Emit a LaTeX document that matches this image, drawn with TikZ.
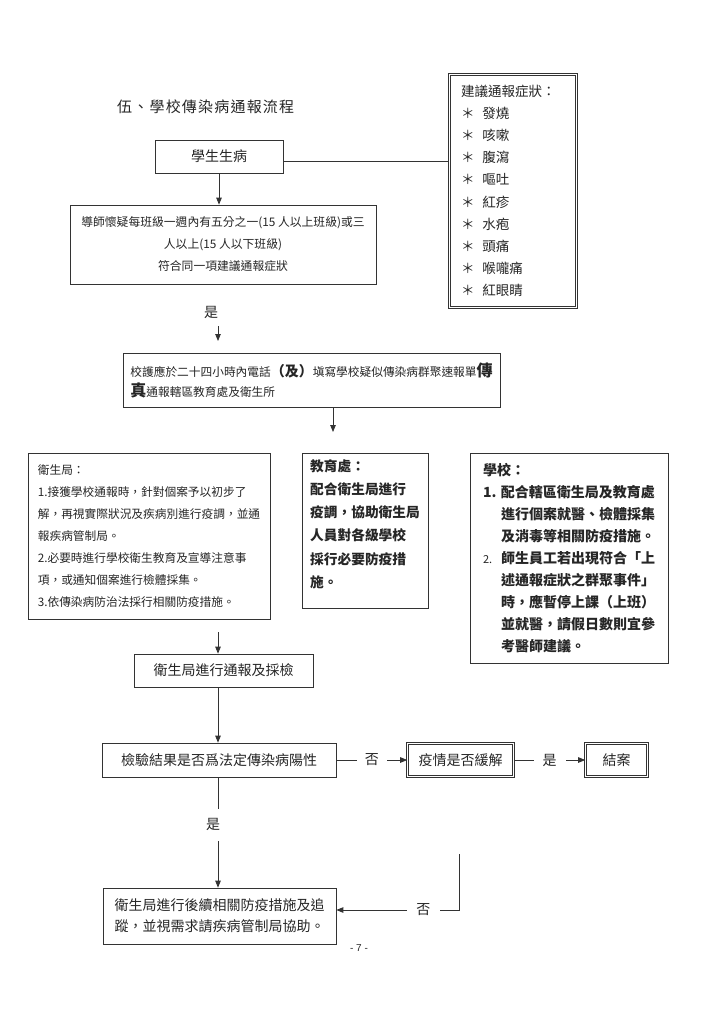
\documentclass[tikz,border=0pt]{standalone}
\usepackage{fontspec}
\setmainfont{Noto Sans CJK TC}
\newfontfamily\titlefont{Noto Sans CJK TC}[LetterSpace=8]
\newfontfamily\pagefont{Liberation Sans}
\usetikzlibrary{arrows.meta}
\newcommand{\myfA}{\fontsize{14}{16}\selectfont}
\tikzset{
  box/.style={draw=black!80, line width=0.7pt, inner sep=0pt, text=black!85},
  dbox/.style={box, double, double distance=1.6pt, line width=0.55pt},
  arr/.style={draw=black!80, line width=0.8pt, -{Triangle[length=7pt,width=5.5pt]}},
  ln/.style={draw=black!80, line width=0.8pt},
  lbl/.style={fill=white, inner xsep=9pt, inner ysep=2pt, text=black!85, font=\myfA},
}
\begin{document}
\begin{tikzpicture}[x=1pt,y=-1pt]
\fill[white] (0,0) rectangle (704,1019);
\useasboundingbox (0,0) rectangle (704,1019);

\node[anchor=west, inner sep=0pt, text=black!85, font=\titlefont\fontsize{15}{18}\selectfont] (title) at (117,107) {伍、學校傳染病通報流程};

\node[box, minimum width=128pt, minimum height=33pt, font=\myfA] (sick) at (219,156.5) {學生生病};

\node[dbox, minimum width=127pt, minimum height=233pt, text width=104pt, align=left, font=\fontsize{13.5}{22.2}\selectfont] (sym) at (513,191) {建議通報症狀：\\＊\hspace{8pt}發燒\\＊\hspace{8pt}咳嗽\\＊\hspace{8pt}腹瀉\\＊\hspace{8pt}嘔吐\\＊\hspace{8pt}紅疹\\＊\hspace{8pt}水疱\\＊\hspace{8pt}頭痛\\＊\hspace{8pt}喉嚨痛\\＊\hspace{8pt}紅眼睛};

\coordinate (sl) at ([yshift=-5pt]sick.east);
\draw[ln] (sl) -- (sl -| sym.west);

\node[box, minimum width=306pt, minimum height=79pt, align=center, font=\fontsize{11.8}{22}\selectfont] (teach) at (223,244.5) {導師懷疑每班級一週內有五分之一(15 人以上班級)或三\\人以上(15 人以下班級)\\符合同一項建議通報症狀};
\draw[arr] (sick.south) -- (sick.south |- teach.north);

\node[text=black!85, font=\myfA, inner sep=0pt] (yes1) at (211,312) {是};
\coordinate (a1s) at (218,326);
\coordinate (a1e) at (218,341);
\draw[arr] (a1s) -- (a1e);

\node[box, minimum width=377pt, minimum height=54pt, align=left, font=\fontsize{11.7}{20}\selectfont] (nurse) at (311.5,380) {校護應於二十四小時內電話{\fontsize{14}{20}\selectfont\bfseries（及）}塡寫學校疑似傳染病群聚速報單{\fontsize{16}{20}\selectfont\bfseries 傳}\\{\fontsize{16}{20}\selectfont\bfseries 真}通報轄區教育處及衛生所};
\coordinate (a2e) at (333,432);
\draw[arr] (nurse.south -| a2e) -- (a2e);

\node[box, minimum width=242pt, minimum height=166pt, align=left, font=\fontsize{11.7}{22}\selectfont] (health) at (149,536) {衛生局：\\1.接獲學校通報時，針對個案予以初步了\\解，再視實際狀況及疾病別進行疫調，並通\\報疾病管制局。\\2.必要時進行學校衛生教育及宣導注意事\\項，或通知個案進行檢體採集。\\3.依傳染病防治法採行相關防疫措施。};

\node[box, minimum width=126pt, minimum height=155pt] (edu) at (365,530.5) {};
\node[align=left, inner sep=0pt, text=black!85, font=\fontsize{13.7}{23.2}\selectfont\bfseries] (edutxt) at (365,524) {教育處：\\配合衛生局進行\\疫調，協助衛生局\\人員對各級學校\\採行必要防疫措\\施。};

\node[box, minimum width=198pt, minimum height=210pt, align=left, font=\fontsize{14}{22}\selectfont\bfseries] (school) at (569,558) {學校：\\\makebox[18pt][l]{1.}配合轄區衛生局及教育處\\\hspace*{18pt}進行個案就醫、檢體採集\\\hspace*{18pt}及消毒等相關防疫措施。\\\makebox[18pt][l]{\fontsize{11}{22}\selectfont\mdseries 2.}師生員工若出現符合「上\\\hspace*{18pt}述通報症狀之群聚事件」\\\hspace*{18pt}時，應暫停上課（上班）\\\hspace*{18pt}並就醫，請假日數則宜參\\\hspace*{18pt}考醫師建議。};

\node[box, minimum width=179pt, minimum height=33pt, font=\myfA] (report) at (223.5,670.5) {衛生局進行通報及採檢};
\coordinate (a3s) at (218,632);
\draw[arr] (a3s) -- (a3s |- report.north);

\node[box, minimum width=234pt, minimum height=34pt, font=\myfA] (test) at (219,760) {檢驗結果是否爲法定傳染病陽性};
\draw[arr] (report.south -| a3s) -- (a3s |- test.north);

\node[dbox, minimum width=106pt, minimum height=33pt, font=\myfA] (relief) at (460.5,760) {疫情是否緩解};
\node[dbox, minimum width=62pt, minimum height=33pt, font=\myfA] (close) at (616.5,760) {結案};
\draw[arr] (test.east) -- node[lbl, inner xsep=8pt]{否} (relief.west);
\draw[arr] (relief.east) -- node[lbl]{是} (close.west);

\node[box, minimum width=233pt, minimum height=56pt, align=left, font=\fontsize{14}{21}\selectfont] (follow) at (219.5,916) {衛生局進行後續相關防疫措施及追\\蹤，並視需求請疾病管制局協助。};
\draw[arr] (test.south -| a3s) -- node[lbl, pos=0.43, inner xsep=3pt, inner ysep=10pt, xshift=-5pt]{是} (a3s |- follow.north);

\coordinate (l1) at (459,854);
\coordinate (l2) at (459,910);
\draw[arr] (l1) -- (l2) -- node[lbl, pos=0.29, inner xsep=9.5pt]{否} (follow.east |- l2);

\node[text=black!85, inner sep=0pt, font=\pagefont\fontsize{10}{12}\selectfont] (pg) at (359,948) {- 7 -};
\end{tikzpicture}
\end{document}
